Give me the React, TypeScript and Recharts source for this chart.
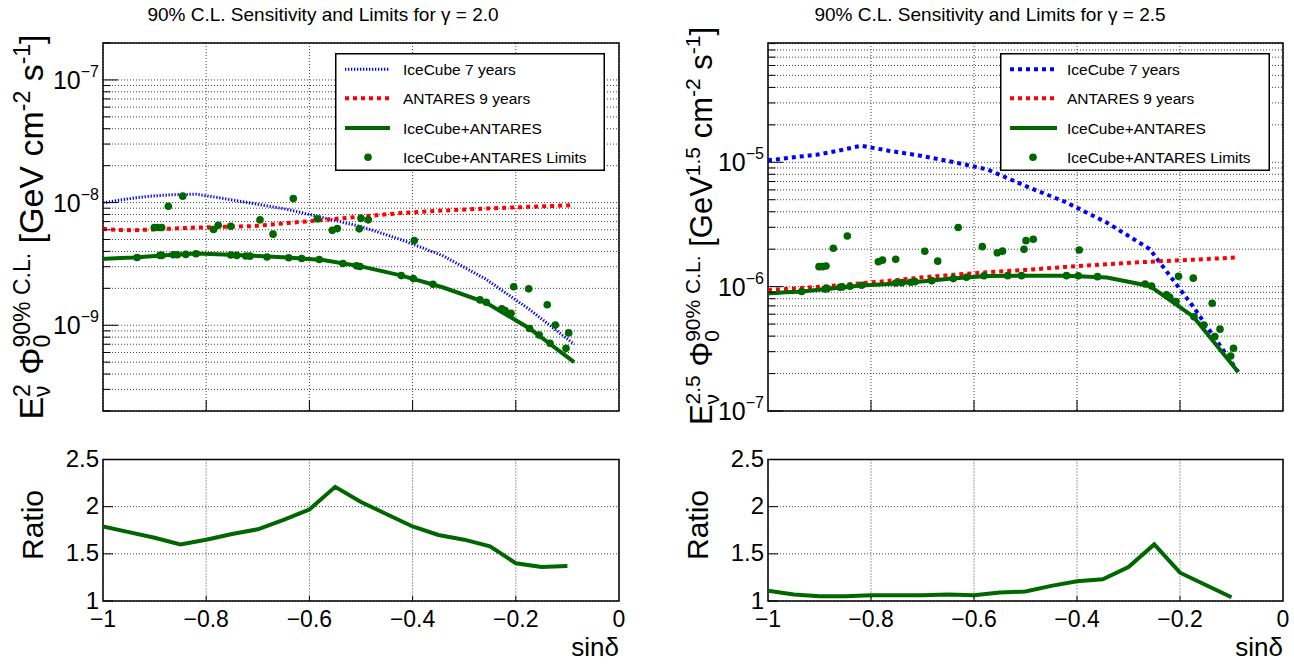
import React from 'react';
import {
  ComposedChart,
  LineChart,
  Line,
  Scatter,
  XAxis,
  YAxis,
  CartesianGrid,
  ReferenceArea,
  Legend,
} from 'recharts';

const FONT = '"Liberation Sans", Arial, Helvetica, sans-serif';
const BLUE = '#0000ff';
const RED = '#ff0000';
const GREEN = '#006600';

// sin(dec) sampling of the sensitivity curves
const sinDec = [-1, -0.996, -0.985, -0.966, -0.94, -0.906, -0.866, -0.819, -0.766, -0.707, -0.643, -0.574, -0.5, -0.423, -0.342, -0.259, -0.174, -0.087];

// gamma = 2.0
const leftIceCube = [1.0e-8, 1.0e-8, 1.02e-8, 1.05e-8, 1.09e-8, 1.13e-8, 1.16e-8, 1.17e-8, 1.08e-8, 9.8e-9, 8.8e-9, 7.55e-9, 6.38e-9, 5.0e-9, 3.7e-9, 2.39e-9, 1.35e-9, 7.0e-10];
const leftAntares = [6.09e-9, 6.09e-9, 6.03e-9, 5.97e-9, 5.96e-9, 6.03e-9, 6.14e-9, 6.26e-9, 6.34e-9, 6.44e-9, 6.81e-9, 7.21e-9, 7.69e-9, 8.21e-9, 8.61e-9, 8.94e-9, 9.23e-9, 9.53e-9];
const leftCombined = [3.47e-9, 3.49e-9, 3.5e-9, 3.53e-9, 3.56e-9, 3.65e-9, 3.75e-9, 3.85e-9, 3.78e-9, 3.69e-9, 3.57e-9, 3.41e-9, 3.02e-9, 2.55e-9, 2.04e-9, 1.54e-9, 9.45e-10, 5.0e-10];
const leftLimitX = [-0.934, -0.9006, -0.8948, -0.8895, -0.8862, -0.8862, -0.8734, -0.8638, -0.856, -0.8455, -0.8397, -0.8198, -0.7859, -0.7767, -0.7525, -0.7525, -0.7409, -0.7234, -0.7151, -0.6957, -0.6822, -0.6705, -0.6401, -0.6312, -0.6149, -0.5843, -0.5808, -0.5556, -0.5459, -0.5349, -0.5087, -0.5033, -0.5019, -0.5, -0.4859, -0.4219, -0.3986, -0.3967, -0.3605, -0.2694, -0.2572, -0.2273, -0.2209, -0.2093, -0.2041, -0.175, -0.1733, -0.1547, -0.1391, -0.1337, -0.1234, -0.1027, -0.0975];
const leftLimitV = [3.57e-9, 6.26e-9, 6.26e-9, 3.71e-9, 6.26e-9, 3.71e-9, 9.33e-9, 3.76e-9, 3.76e-9, 1.129e-8, 3.78e-9, 3.83e-9, 6.03e-9, 6.53e-9, 6.42e-9, 3.74e-9, 3.71e-9, 3.67e-9, 3.66e-9, 7.23e-9, 3.6e-9, 5.53e-9, 3.55e-9, 1.078e-8, 3.5e-9, 7.37e-9, 3.44e-9, 5.94e-9, 6.14e-9, 3.19e-9, 3.05e-9, 6.11e-9, 3.01e-9, 7.44e-9, 7.23e-9, 2.54e-9, 2.4e-9, 4.91e-9, 2.16e-9, 1.61e-9, 1.54e-9, 1.36e-9, 1.32e-9, 1.25e-9, 2.06e-9, 1.98e-9, 9.4e-10, 8.34e-10, 1.47e-9, 7.14e-10, 1.005e-9, 6.48e-10, 8.66e-10];

// gamma = 2.5
const rightIceCube = [1.034e-5, 1.043e-5, 1.053e-5, 1.077e-5, 1.109e-5, 1.149e-5, 1.233e-5, 1.359e-5, 1.239e-5, 1.134e-5, 1.011e-5, 8.75e-6, 6.45e-6, 4.8e-6, 3.27e-6, 2.01e-6, 6.87e-7, 2.06e-7];
const rightAntares = [9.36e-7, 9.41e-7, 9.46e-7, 9.55e-7, 9.71e-7, 9.94e-7, 1.022e-6, 1.065e-6, 1.111e-6, 1.181e-6, 1.242e-6, 1.305e-6, 1.362e-6, 1.44e-6, 1.514e-6, 1.586e-6, 1.648e-6, 1.717e-6];
const rightCombined = [8.82e-7, 8.85e-7, 8.9e-7, 9.02e-7, 9.1e-7, 9.41e-7, 9.76e-7, 1.019e-6, 1.051e-6, 1.097e-6, 1.164e-6, 1.219e-6, 1.226e-6, 1.226e-6, 1.186e-6, 1.013e-6, 5.74e-7, 2.06e-7];
const rightLimitX = [-0.901, -0.8942, -0.8874, -0.8732, -0.846, -0.7858, -0.7777, -0.752, -0.6955, -0.6705, -0.6307, -0.5839, -0.5548, -0.5447, -0.5029, -0.499, -0.4849, -0.3957, -0.2029, -0.1742, -0.1375, -0.1223, -0.0961, -0.1016, -0.9346, -0.8893, -0.8849, -0.8602, -0.8557, -0.8408, -0.8181, -0.752, -0.7404, -0.7229, -0.7146, -0.6821, -0.6402, -0.6148, -0.5806, -0.5346, -0.5078, -0.4204, -0.3975, -0.3602, -0.2676, -0.2553, -0.2262, -0.2198, -0.2078, -0.1728, -0.154, -0.1326];
const rightLimitV = [1.448e-6, 1.448e-6, 1.467e-6, 2.035e-6, 2.555e-6, 1.586e-6, 1.633e-6, 1.661e-6, 1.926e-6, 1.603e-6, 2.99e-6, 2.097e-6, 1.873e-6, 1.929e-6, 1.998e-6, 2.343e-6, 2.404e-6, 1.972e-6, 1.212e-6, 1.17e-6, 7.35e-7, 4.55e-7, 3.2e-7, 2.77e-7, 9.15e-7, 9.58e-7, 9.64e-7, 9.89e-7, 9.94e-7, 1.007e-6, 1.026e-6, 1.071e-6, 1.077e-6, 1.085e-6, 1.097e-6, 1.117e-6, 1.16e-6, 1.19e-6, 1.224e-6, 1.226e-6, 1.226e-6, 1.226e-6, 1.221e-6, 1.203e-6, 1.051e-6, 1.013e-6, 8.58e-7, 8.22e-7, 7.6e-7, 5.73e-7, 4.9e-7, 3.96e-7];

// ratio panels
const sinDecRatio = [-1, -0.95, -0.9, -0.85, -0.8, -0.75, -0.7, -0.65, -0.6, -0.55, -0.5, -0.45, -0.4, -0.35, -0.3, -0.25, -0.2, -0.15, -0.1];
const leftRatio = [1.79, 1.73, 1.67, 1.6, 1.65, 1.71, 1.76, 1.86, 1.97, 2.21, 2.05, 1.92, 1.79, 1.7, 1.65, 1.58, 1.4, 1.36, 1.37];
const rightRatio = [1.11, 1.07, 1.05, 1.05, 1.06, 1.06, 1.06, 1.07, 1.06, 1.09, 1.1, 1.16, 1.21, 1.23, 1.36, 1.6, 1.3, 1.17, 1.04];

// axes
const xTicks = [-1, -0.8, -0.6, -0.4, -0.2, 0];
const xTickLabels = ['\u22121', '\u22120.8', '\u22120.6', '\u22120.4', '\u22120.2', '0'];
const ratioTicks = [1, 1.5, 2, 2.5];
const ratioTickLabels = ['1', '1.5', '2', '2.5'];
const leftYTicks = [2e-10, 3e-10, 4e-10, 5e-10, 6e-10, 7e-10, 8e-10, 9e-10, 1e-9, 2e-9, 3e-9, 4e-9, 5e-9, 6e-9, 7e-9, 8e-9, 9e-9, 1e-8, 2e-8, 3e-8, 4e-8, 5e-8, 6e-8, 7e-8, 8e-8, 9e-8, 1e-7, 2e-7];
const rightYTicks = [1e-7, 2e-7, 3e-7, 4e-7, 5e-7, 6e-7, 7e-7, 8e-7, 9e-7, 1e-6, 2e-6, 3e-6, 4e-6, 5e-6, 6e-6, 7e-6, 8e-6, 9e-6, 1e-5, 2e-5, 3e-5, 4e-5, 5e-5, 6e-5, 7e-5, 8e-5, 9e-5];
const legendLabels = ['IceCube 7 years', 'ANTARES 9 years', 'IceCube+ANTARES', 'IceCube+ANTARES Limits'];
const titles = ['90% C.L. Sensitivity and Limits for \u03b3 = 2.0', '90% C.L. Sensitivity and Limits for \u03b3 = 2.5'];

const toPoints = (xs: number[], vs: number[]) => xs.map((x, i) => ({ x, v: vs[i] }));

function LogTick(props: any) {
  const { x, y, payload } = props;
  const lg = Math.log10(payload.value);
  const e = Math.round(lg);
  const major = Math.abs(lg - e) < 1e-6;
  return (
    <g>
      <line x1={x} x2={x + (major ? 15 : 7.5)} y1={y} y2={y} stroke="#000" strokeWidth={1} />
      {major && (
        <text x={x - 4} y={y + 9} textAnchor="end" fontFamily={FONT} fontSize={25} fill="#000">
          10<tspan fontSize={16} dy={-12}>{'\u2212' + Math.abs(e)}</tspan>
        </text>
      )}
    </g>
  );
}

function MainXTick(props: any) {
  const { x, y, payload } = props;
  if (payload.value <= -1 || payload.value >= 0) return <g />;
  return <line x1={x} x2={x} y1={y} y2={y - 11} stroke="#000" strokeWidth={1} />;
}

function RatioXTick(props: any) {
  const { x, y, index, payload } = props;
  const inner = payload.value > -1 && payload.value < 0;
  return (
    <g>
      {inner && <line x1={x} x2={x} y1={y} y2={y - 5} stroke="#000" strokeWidth={1} />}
      <text x={x} y={y + 26} textAnchor="middle" fontFamily={FONT} fontSize={23} fill="#000">
        {xTickLabels[index]}
      </text>
    </g>
  );
}

function RatioYTick(props: any) {
  const { x, y, index } = props;
  return (
    <g>
      <line x1={x} x2={x + 10} y1={y} y2={y} stroke="#000" strokeWidth={1} />
      <text x={x - 4} y={y + 7.5} textAnchor="end" fontFamily={FONT} fontSize={24} fill="#000">
        {ratioTickLabels[index]}
      </text>
    </g>
  );
}

function LegendBox({ iceDash, iceWidth, sampleEnd, textX }: any) {
  const rows = [16.3, 45.3, 75, 104.3];
  return (
    <svg width={270} height={118} style={{ display: 'block' }}>
      <rect x={0.75} y={0.75} width={268.5} height={116.5} fill="#fff" stroke="#000" strokeWidth={1.5} />
      <line x1={10} x2={sampleEnd} y1={rows[0]} y2={rows[0]} stroke={BLUE} strokeWidth={iceWidth} strokeDasharray={iceDash} />
      <line x1={10} x2={sampleEnd} y1={rows[1]} y2={rows[1]} stroke={RED} strokeWidth={4} strokeDasharray="4 4" />
      <line x1={10} x2={sampleEnd} y1={rows[2]} y2={rows[2]} stroke={GREEN} strokeWidth={4} />
      <circle cx={33} cy={rows[3]} r={3.8} fill={GREEN} />
      {legendLabels.map((t, i) => (
        <text key={t} x={textX} y={rows[i] + 5.5} fontFamily={FONT} fontSize={15.5} fill="#000">
          {t}
        </text>
      ))}
    </svg>
  );
}

function MainPanel(p: any) {
  return (
    <div style={{ position: 'absolute', left: p.left, top: 0 }}>
      <ComposedChart width={p.width} height={440} margin={{ top: 43, right: p.marginRight, bottom: 0, left: 0 }}>
        <CartesianGrid stroke="#444" strokeDasharray="1 2" strokeWidth={1} />
        <XAxis
          type="number"
          dataKey="x"
          domain={[-1, 0]}
          ticks={xTicks}
          allowDataOverflow
          interval={0}
          height={29}
          tickSize={0}
          tickMargin={0}
          axisLine={false}
          tickLine={false}
          tick={(t: any) => <MainXTick {...t} />}
        />
        <YAxis
          type="number"
          dataKey="v"
          scale="log"
          domain={p.domain}
          ticks={p.yTicks}
          allowDataOverflow
          interval={0}
          width={p.yWidth}
          tickSize={0}
          tickMargin={0}
          axisLine={false}
          tickLine={false}
          tick={(t: any) => <LogTick {...t} />}
        />
        <Line data={toPoints(sinDec, p.ice)} dataKey="v" type="linear" stroke={BLUE} strokeWidth={p.iceWidth} strokeDasharray={p.iceDash} dot={false} isAnimationActive={false} />
        <Line data={toPoints(sinDec, p.antares)} dataKey="v" type="linear" stroke={RED} strokeWidth={4} strokeDasharray="4 4" dot={false} isAnimationActive={false} />
        <Line data={toPoints(sinDec, p.combined)} dataKey="v" type="linear" stroke={GREEN} strokeWidth={4} dot={false} isAnimationActive={false} />
        <Scatter
          data={toPoints(p.limitX, p.limitV)}
          fill={GREEN}
          isAnimationActive={false}
          shape={(s: any) => <circle cx={s.cx} cy={s.cy} r={3.8} fill={GREEN} />}
        />
        <ReferenceArea x1={-1} x2={0} y1={p.domain[0]} y2={p.domain[1]} fill="none" stroke="#000" strokeWidth={1.5} ifOverflow="visible" />
        <Legend
          layout="vertical"
          align="center"
          verticalAlign="middle"
          wrapperStyle={{ left: p.legendLeft, top: 52.7, width: 270, height: 118 }}
          content={() => <LegendBox iceDash={p.iceDash} iceWidth={p.iceWidth} sampleEnd={p.sampleEnd} textX={p.textX} />}
        />
      </ComposedChart>
    </div>
  );
}

function RatioPanel(p: any) {
  return (
    <div style={{ position: 'absolute', left: p.left, top: 440 }}>
      <LineChart width={p.width} height={224} margin={{ top: 19.5, right: p.marginRight, bottom: 0, left: 0 }} data={toPoints(sinDecRatio, p.ratio)}>
        <CartesianGrid stroke="#444" strokeDasharray="1 2" strokeWidth={1} />
        <XAxis
          type="number"
          dataKey="x"
          domain={[-1, 0]}
          ticks={xTicks}
          allowDataOverflow
          interval={0}
          height={63}
          tickSize={0}
          tickMargin={0}
          axisLine={false}
          tickLine={false}
          tick={(t: any) => <RatioXTick {...t} />}
        />
        <YAxis
          type="number"
          domain={[1, 2.5]}
          ticks={ratioTicks}
          allowDataOverflow
          interval={0}
          width={p.yWidth}
          tickSize={0}
          tickMargin={0}
          axisLine={false}
          tickLine={false}
          tick={(t: any) => <RatioYTick {...t} />}
        />
        <Line dataKey="v" type="linear" stroke={GREEN} strokeWidth={4} dot={false} isAnimationActive={false} />
        <ReferenceArea x1={-1} x2={0} y1={1} y2={2.5} fill="none" stroke="#000" strokeWidth={1.5} ifOverflow="visible" />
      </LineChart>
    </div>
  );
}

const SUB = 23;

function Labels() {
  return (
    <svg width={1294} height={664} style={{ position: 'absolute', left: 0, top: 0, pointerEvents: 'none', whiteSpace: 'pre' }} fontFamily={FONT}>
      <text x={323} y={21} textAnchor="middle" fontSize={19}>{titles[0]}</text>
      <text x={990} y={21} textAnchor="middle" fontSize={19}>{titles[1]}</text>

      <text transform="translate(43,227) rotate(-90)" textAnchor="middle" fontSize={34}>
        <tspan>E</tspan>
        <tspan fontSize={SUB} dy={7}>{'\u03bd'}</tspan>
        <tspan fontSize={SUB} dx={-11.5} dy={-20}>2</tspan>
        <tspan dy={13}>{' \u03a6'}</tspan>
        <tspan fontSize={SUB} dy={7}>0</tspan>
        <tspan fontSize={SUB} dx={-12.8} dy={-20}>90% C.L.</tspan>
        <tspan dy={13}>{' [GeV cm'}</tspan>
        <tspan fontSize={SUB} dy={-13}>-2</tspan>
        <tspan dy={13}>{' s'}</tspan>
        <tspan fontSize={SUB} dy={-13}>-1</tspan>
        <tspan dy={13}>]</tspan>
      </text>

      <text transform="translate(712,226) rotate(-90)" textAnchor="middle" fontSize={31}>
        <tspan>E</tspan>
        <tspan fontSize={21} dy={7}>{'\u03bd'}</tspan>
        <tspan fontSize={21} dx={-10.5} dy={-19}>2.5</tspan>
        <tspan dy={12}>{' \u03a6'}</tspan>
        <tspan fontSize={21} dy={7}>0</tspan>
        <tspan fontSize={21} dx={-11.7} dy={-19}>90% C.L.</tspan>
        <tspan dy={12}>{' [GeV'}</tspan>
        <tspan fontSize={21} dy={-12}>1.5</tspan>
        <tspan dy={12}>{' cm'}</tspan>
        <tspan fontSize={21} dy={-12}>-2</tspan>
        <tspan dy={12}>{' s'}</tspan>
        <tspan fontSize={21} dy={-12}>-1</tspan>
        <tspan dy={12}>]</tspan>
      </text>

      <text transform="translate(43,525) rotate(-90)" textAnchor="middle" fontSize={30}>Ratio</text>
      <text transform="translate(708,525) rotate(-90)" textAnchor="middle" fontSize={30}>Ratio</text>

      <text x={619} y={656} textAnchor="end" fontSize={26}>{'sin\u03b4'}</text>
      <text x={1283} y={656} textAnchor="end" fontSize={26}>{'sin\u03b4'}</text>
    </svg>
  );
}

export default function App() {
  return (
    <div style={{ position: 'absolute', left: 0, top: 0, width: 1294, height: 664, background: '#fff', fontFamily: FONT, overflow: 'hidden' }}>
      <MainPanel
        left={0}
        width={640}
        marginRight={21}
        yWidth={103}
        domain={[2e-10, 2e-7]}
        yTicks={leftYTicks}
        ice={leftIceCube}
        antares={leftAntares}
        combined={leftCombined}
        limitX={leftLimitX}
        limitV={leftLimitV}
        iceDash="1.3 1.7"
        iceWidth={3}
        legendLeft={335}
        sampleEnd={55}
        textX={68}
      />
      <MainPanel
        left={660}
        width={634}
        marginRight={11}
        yWidth={108}
        domain={[1e-7, 9.1e-5]}
        yTicks={rightYTicks}
        ice={rightIceCube}
        antares={rightAntares}
        combined={rightCombined}
        limitX={rightLimitX}
        limitV={rightLimitV}
        iceDash="4 4"
        iceWidth={4}
        legendLeft={340}
        sampleEnd={57}
        textX={67}
      />
      <RatioPanel left={0} width={640} marginRight={21} yWidth={103} ratio={leftRatio} />
      <RatioPanel left={660} width={634} marginRight={11} yWidth={108} ratio={rightRatio} />
      <Labels />
    </div>
  );
}
